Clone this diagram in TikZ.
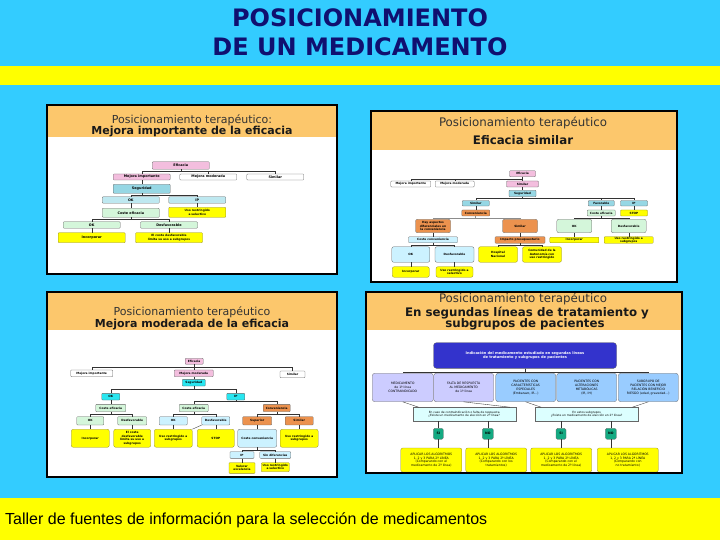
\documentclass[tikz,border=0pt]{standalone}
\usepackage{fontspec}
\setmainfont{DejaVu Sans}
\newfontfamily\footfont{Liberation Sans}
\usepackage{tikz}
\usepackage{xcolor}
\definecolor{SkyBg}{RGB}{51,204,255}
\definecolor{BandYellow}{RGB}{255,255,0}
\definecolor{TitleNavy}{RGB}{16,16,112}
\definecolor{HeadOrange}{RGB}{252,199,108}
\definecolor{BoxPink}{RGB}{243,190,222}
\definecolor{BoxTeal}{RGB}{150,215,228}
\definecolor{BoxTealLight}{RGB}{190,232,240}
\definecolor{BoxMint}{RGB}{212,246,218}
\definecolor{BoxYellow}{RGB}{255,255,0}
\definecolor{OliveEdge}{RGB}{150,140,40}
\definecolor{BoxOrange}{RGB}{236,146,78}
\definecolor{BoxPale}{RGB}{204,242,255}
\definecolor{BoxCyan}{RGB}{40,230,240}
\definecolor{BoxNavy}{RGB}{51,51,204}
\definecolor{BoxLilac}{RGB}{204,204,255}
\definecolor{BoxBlue}{RGB}{153,204,255}
\definecolor{BoxAsk}{RGB}{220,255,255}
\definecolor{BoxGreen}{RGB}{20,170,130}

\begin{document}
\begin{tikzpicture}[
            x=1pt, y=-1pt,
            sz/.style 2 args={minimum width=#1, minimum height=#2},
            box/.style={draw=black!60, line width=0.3pt, rounded corners=0.8pt, align=center, inner sep=0.2pt, font=\fontsize{2.9}{3.4}\selectfont\bfseries},
            bigtxt/.style={font=\fontsize{3.4}{3.9}\selectfont\bfseries},
            pinkbox/.style={box, fill=BoxPink},
            plainbox/.style={box, fill=white},
            tealbox/.style={box, fill=BoxTeal},
            okbox/.style={box, fill=BoxTealLight},
            mintbox/.style={box, fill=BoxMint},
            yelbox/.style={box, fill=BoxYellow, draw=OliveEdge},
            orabox/.style={box, fill=BoxOrange},
            palebox/.style={box, fill=BoxPale},
            cyanbox/.style={box, fill=BoxCyan},
            navybox/.style={box, fill=BoxNavy, text=white, rounded corners=3pt, font=\fontsize{3.6}{4.6}\selectfont\bfseries},
            lilabox/.style={box, fill=BoxLilac, rounded corners=2.5pt, font=\fontsize{3.1}{3.8}\selectfont},
            bluebox/.style={lilabox, fill=BoxBlue},
            askbox/.style={box, fill=BoxAsk, rounded corners=0pt, font=\fontsize{2.9}{3.6}\selectfont},
            yesno/.style={box, fill=BoxGreen, rounded corners=1.5pt, font=\fontsize{3.2}{3.6}\selectfont\bfseries},
            algbox/.style={box, fill=BoxYellow, draw=OliveEdge, rounded corners=2pt, font=\fontsize{3.1}{3.8}\selectfont},
            link/.style={draw=black!80, line width=0.35pt},
            panel/.style={draw=black, line width=2.6pt},
            headtxt/.style={font=\fontsize{#1}{13}\selectfont, text=black!80, inner sep=0pt, anchor=base},
            headtxt/.default=11,
            headbold/.style={font=\fontsize{#1}{13}\selectfont\bfseries, text=black!90, inner sep=0pt, anchor=base},
            headbold/.default=11,
            titletxt/.style={font=\fontsize{24}{28}\selectfont\bfseries, text=TitleNavy, inner sep=0pt, anchor=base}
        ]
            \useasboundingbox (0,0) rectangle (720,540);
            \fill[SkyBg] (0,0) rectangle (720,540);
            \fill[BandYellow] (0,66) rectangle (720,85);
            \fill[BandYellow] (0,498) rectangle (720,540);

            \node[titletxt] (title1) at (360,27) {POSICIONAMIENTO};
            \node[titletxt] (title2) at (360,56) {DE UN MEDICAMENTO};
            \node[font=\fontsize{16}{18}\selectfont\footfont, inner sep=0pt, anchor=base west] (foot) at (5,524.5) {Taller de fuentes de información para la selección de medicamentos};

            % panel backgrounds
            \fill[white] (47,105) rectangle (337,274);
            \fill[HeadOrange] (47,105) rectangle (337,137);
            \fill[white] (371,111) rectangle (677,282);
            \fill[HeadOrange] (371,111) rectangle (677,150);
            \fill[white] (47,292) rectangle (337,477);
            \fill[HeadOrange] (47,292) rectangle (337,330);
            \fill[white] (366,292) rectangle (682,473);
            \fill[HeadOrange] (366,292) rectangle (682,330);

            \node[headtxt] (aT1) at (192,124) {Posicionamiento terapéutico:};
            \node[headbold] (aT2) at (192,135) {Mejora importante de la eficacia};
            \node[headtxt=11.8] (bT1) at (523,126.3) {Posicionamiento terapéutico};
            \node[headbold=11.8] (bT2) at (523,144.3) {Eficacia similar};
            \node[headtxt] (cT1) at (192,315) {Posicionamiento terapéutico};
            \node[headbold] (cT2) at (192,327) {Mejora moderada de la eficacia};
            \node[headtxt=11.8] (dT1) at (523,302.3) {Posicionamiento terapéutico};
            \node[headbold=11.8] (dT2) at (527,316) {En segundas líneas de tratamiento y};
            \node[headbold=11.8] (dT3) at (525,327.5) {subgrupos de pacientes};

            % mejora importante
            \node[pinkbox, bigtxt, sz={57}{7.5}] (aEf) at (180.8,165.5) {Eficacia};
            \node[pinkbox, bigtxt, sz={57}{6}] (aMI) at (141.7,177) {Mejora importante};
            \node[plainbox, bigtxt, sz={57}{6}] (aMM) at (208.3,177) {Mejora moderada};
            \node[plainbox, bigtxt, sz={57}{6}] (aSi) at (275.3,177) {Similar};
            \node[tealbox, bigtxt, sz={57}{9}] (aSe) at (141.7,188.8) {Seguridad};
            \node[okbox, bigtxt, sz={57}{6.5}] (aOK) at (130.8,200) {OK};
            \node[okbox, bigtxt, sz={57}{6.5}] (aIP) at (197.3,200) {IP};
            \node[mintbox, bigtxt, sz={57}{9}] (aCE) at (130.8,212.8) {Coste eficacia};
            \node[yelbox, sz={57}{10}] (aUso) at (197.3,212.3) {Uso restringido\\a selectivo};
            \node[mintbox, bigtxt, sz={57}{6.5}] (aOK2) at (91.7,225) {OK};
            \node[mintbox, bigtxt, sz={57}{6.5}] (aDes) at (169,225) {Desfavorable};
            \node[yelbox, bigtxt, sz={67}{10}] (aInc) at (91.7,237.7) {Incorporar};
            \node[yelbox, sz={67}{10}] (aLim) at (169,237.7) {El coste desfavorable\\limita su uso a subgrupos};

            \draw[link] (aEf.south) -- ++(0,1.7) -| (aMI.north);
            \draw[link] (aEf.south) -- ++(0,1.7) -| (aMM.north);
            \draw[link] (aEf.south) -- ++(0,1.7) -| (aSi.north);
            \draw[link] (aMI) -- (aSe);
            \draw[link] (aSe.south) -- ++(0,1.6) -| (aOK.north);
            \draw[link] (aSe.south) -- ++(0,1.6) -| (aIP.north);
            \draw[link] (aOK) -- (aCE);
            \draw[link] (aIP) -- (aUso);
            \draw[link] (aCE.south) -- ++(0,1.7) -| (aOK2.north);
            \draw[link] (aCE.south) -- ++(0,1.7) -| (aDes.north);
            \draw[link] (aOK2) -- (aInc);
            \draw[link] (aDes) -- (aLim);

            % eficacia similar
            \node[pinkbox, sz={26}{6}] (bEf) at (522.5,173.7) {Eficacia};
            \node[plainbox, sz={40}{6}] (bMI) at (410.8,184) {Mejora importante};
            \node[plainbox, sz={39}{6}] (bMM) at (454.7,184) {Mejora moderada};
            \node[pinkbox, sz={32}{6}] (bSi) at (522.5,184) {Similar};
            \node[tealbox, sz={27}{6.4}] (bSe) at (522.5,193.5) {Seguridad};
            \node[tealbox, sz={27}{5.4}] (bSim) at (475.8,203.3) {Similar};
            \node[tealbox, sz={26}{5.4}] (bFav) at (601.3,203.3) {Favorable};
            \node[tealbox, sz={27}{5.4}] (bIP) at (634,203.3) {IP};
            \node[orabox, sz={28}{6}] (bCo) at (475.8,213) {Conveniencia};
            \node[mintbox, sz={28}{6}] (bCE) at (601.3,213) {Coste eficacia};
            \node[yelbox, sz={27}{6}] (bStop) at (634,213) {STOP};
            \node[orabox, sz={35}{13.4}, rounded corners=2pt] (bHay) at (433,226) {Hay aspectos\\diferenciales en\\la conveniencia};
            \node[orabox, sz={35}{13.4}, rounded corners=2pt] (bSim2) at (520,226) {Similar};
            \node[mintbox, sz={35}{13.4}, rounded corners=2pt] (bOK) at (574.3,226) {OK};
            \node[mintbox, sz={35}{13.4}, rounded corners=2pt] (bDes) at (628.7,226) {Desfavorable};
            \node[palebox, sz={49}{6}] (bCC) at (433,239.8) {Coste conveniencia};
            \node[orabox, sz={50}{6.6}] (bImp) at (520,240) {Impacto presupuestario};
            \node[yelbox, sz={49}{5.6}] (bInc) at (574.3,240) {Incorporar};
            \node[yelbox, sz={49}{6.6}] (bUso) at (628.7,240) {Uso restringido a\\subgrupos};
            \node[palebox, sz={38}{15.6}, rounded corners=2pt] (bOK2) at (410.8,254.5) {OK};
            \node[palebox, sz={39}{15.6}, rounded corners=2pt] (bDes2) at (454.5,254.5) {Desfavorable};
            \node[yelbox, sz={39}{15.6}, rounded corners=2pt] (bHos) at (498,254.5) {Hospital\\Nacional};
            \node[yelbox, sz={39}{15.6}, rounded corners=2pt] (bCA) at (542,254.5) {Comunidad de la\\Autonomía con\\uso restringido};
            \node[yelbox, sz={37}{10.6}, rounded corners=2pt] (bInc2) at (410.8,272) {Incorporar};
            \node[yelbox, sz={37}{10.6}, rounded corners=2pt] (bUso2) at (454.5,272) {Uso restringido a\\selectivo};

            \draw[link] (bEf.south) -- ++(0,2.3) -| (bMI.north);
            \draw[link] (bEf.south) -- ++(0,2.3) -| (bMM.north);
            \draw[link] (bEf.south) -- ++(0,2.3) -| (bSi.north);
            \draw[link] (bSi) -- (bSe);
            \draw[link] (bSe.south) -- ++(0,1.6) -| (bSim.north);
            \draw[link] (bSe.south) -- ++(0,1.6) -| (bFav.north);
            \draw[link] (bSe.south) -- ++(0,1.6) -| (bIP.north);
            \draw[link] (bSim) -- (bCo);
            \draw[link] (bFav) -- (bCE);
            \draw[link] (bIP) -- (bStop);
            \draw[link, black!45, line width=0.8pt] (bCo.south) -- ++(0,2) -| (bHay.north);
            \draw[link, black!45, line width=0.8pt] (bCo.south) -- ++(0,2) -| (bSim2.north);
            \draw[link] (bCE.south) -- ++(0,2) -| (bOK.north);
            \draw[link] (bCE.south) -- ++(0,2) -| (bDes.north);
            \draw[link] (bOK) -- (bInc);
            \draw[link] (bDes) -- (bUso);
            \draw[link] (bHay) -- (bCC);
            \draw[link] (bSim2) -- (bImp);
            \draw[link] (bCC.south) -- ++(0,2.2) -| (bOK2.north);
            \draw[link] (bCC.south) -- ++(0,2.2) -| (bDes2.north);
            \draw[link] (bImp.south) -- ++(0,2.2) -| (bHos.north);
            \draw[link] (bImp.south) -- ++(0,2.2) -| (bCA.north);
            \draw[link] (bOK2) -- (bInc2);
            \draw[link] (bDes2) -- (bUso2);

            % mejora moderada
            \node[pinkbox, sz={18}{6}] (cEf) at (194.2,361.3) {Eficacia};
            \node[plainbox, sz={42}{6.7}] (cMI) at (91.7,373.3) {Mejora importante};
            \node[pinkbox, sz={39}{6.7}] (cMM) at (193.8,373.3) {Mejora moderada};
            \node[plainbox, sz={25}{6.7}] (cSi) at (292.5,374.3) {Similar};
            \node[cyanbox, sz={23}{6.7}] (cSe) at (193.8,382.7) {Seguridad};
            \node[cyanbox, sz={18}{6.7}] (cOK) at (110.8,396.7) {OK};
            \node[cyanbox, sz={18}{6.7}] (cIP) at (235.8,396.7) {IP};
            \node[mintbox, sz={30}{7.3}] (cCE) at (110.8,408) {Coste eficacia};
            \node[mintbox, sz={29}{7.3}] (cCE2) at (193.8,408) {Coste eficacia};
            \node[orabox, sz={27}{7.3}] (cConv) at (276.7,408) {Conveniencia};
            \node[mintbox, sz={27}{8.3}] (cOK2) at (90.3,420.8) {OK};
            \node[mintbox, sz={29}{8.3}] (cDes) at (132.2,420.8) {Desfavorable};
            \node[palebox, sz={28}{8.3}] (cOK3) at (173.3,420.8) {OK};
            \node[palebox, sz={28}{8.3}] (cDes3) at (215.8,420.8) {Desfavorable};
            \node[orabox, sz={29}{8.3}] (cSup) at (257.2,420.8) {Superior};
            \node[orabox, sz={28}{8.3}] (cSim) at (299.2,420.8) {Similar};
            \node[yelbox, sz={38}{18}, rounded corners=2pt] (cInc) at (90.3,438.3) {Incorporar};
            \node[yelbox, sz={37}{18}, rounded corners=2pt] (cLim) at (132.2,438.3) {El coste\\desfavorable\\limita su uso a\\subgrupos};
            \node[yelbox, sz={38}{18}, rounded corners=2pt] (cUso) at (173.3,438.3) {Uso restringido a\\subgrupos};
            \node[yelbox, sz={37}{18}, rounded corners=2pt] (cStop) at (215.8,438.3) {STOP};
            \node[palebox, sz={39}{18}, rounded corners=2pt] (cCC) at (257.2,438.3) {Coste conveniencia};
            \node[yelbox, sz={38}{18}, rounded corners=2pt] (cUso2) at (299.2,438.3) {Uso restringido a\\subgrupos};
            \node[palebox, sz={24}{6.7}] (cIP2) at (242,455) {IP};
            \node[palebox, sz={31}{6.7}] (cSin) at (275.3,455) {Sin diferencias};
            \node[yelbox, sz={26}{10.7}] (cVal) at (242,468) {Valorar\\excelencia};
            \node[yelbox, sz={28}{9}] (cUso3) at (275.3,467.2) {Uso restringido\\a selectivo};

            \draw[link] (cEf.south) -- ++(0,2.7) -| (cMI.north);
            \draw[link] (cEf.south) -- ++(0,2.7) -| (cMM.north);
            \draw[link] (cEf.south) -- ++(0,2.7) -| (cSi.north);
            \draw[link] (cMM) -- (cSe);
            \draw[link] (cSe.south) -- ++(0,3) -| (cOK.north);
            \draw[link] (cSe.south) -- ++(0,3) -| (cIP.north);
            \draw[link] (cOK) -- (cCE);
            \draw[link] (cIP.south) -- ++(0,1.2) -| (cCE2.north);
            \draw[link] (cIP.south) -- ++(0,1.2) -| (cConv.north);
            \draw[link] (cCE.south) -- ++(0,2.3) -| (cOK2.north);
            \draw[link] (cCE.south) -- ++(0,2.3) -| (cDes.north);
            \draw[link] (cCE2.south) -- ++(0,2.3) -| (cOK3.north);
            \draw[link] (cCE2.south) -- ++(0,2.3) -| (cDes3.north);
            \draw[link] (cConv.south) -- ++(0,2.3) -| (cSup.north);
            \draw[link] (cConv.south) -- ++(0,2.3) -| (cSim.north);
            \draw[link] (cOK2) -- (cInc);
            \draw[link] (cDes) -- (cLim);
            \draw[link] (cOK3) -- (cUso);
            \draw[link] (cDes3) -- (cStop);
            \draw[link] (cDes3.south west) -- (cUso.north east);
            \draw[link] (cSup) -- (cCC);
            \draw[link] (cSim) -- (cUso2);
            \draw[link] (cCC.south) -- ++(0,2.7) -| (cIP2.north);
            \draw[link] (cCC.south) -- ++(0,2.7) -| (cSin.north);
            \draw[link] (cIP2) -- (cVal);
            \draw[link] (cSin) -- (cUso3);

            % segundas lineas
            \node[navybox, sz={183}{25.7}] (dInd) at (525,355.5) {Indicación del medicamento estudiado en segundas líneas\\de tratamiento y subgrupos de pacientes};
            \node[lilabox, sz={61}{28.4}] (dMed) at (402.8,387.5) {MEDICAMENTO\\de 1ª línea\\CONTRAINDICADO};
            \node[lilabox, sz={60}{28.4}] (dFal) at (463.7,387.5) {FALTA DE RESPUESTA\\AL MEDICAMENTO\\de 1ª línea};
            \node[bluebox, sz={60}{28.4}] (dCar) at (525.7,387.5) {PACIENTES CON\\CARACTERÍSTICAS\\ESPECIALES\\(Embarazo, IR...)};
            \node[bluebox, sz={60}{28.4}] (dAlt) at (586.7,387.5) {PACIENTES CON\\ALTERACIONES\\METABÓLICAS\\(IR, IH)};
            \node[bluebox, sz={60}{28.4}] (dSub) at (648.3,387.5) {SUBGRUPO DE\\PACIENTES CON MEJOR\\RELACIÓN BENEFICIO\\RIESGO (edad, gravedad...)};
            \node[askbox, sz={103}{13.7}] (dQ1) at (464.2,414.2) {En caso de contraindicación o falta de respuesta\\¿Existe un medicamento de elección en 2ª línea?};
            \node[askbox, sz={103}{13.7}] (dQ2) at (586.7,414.2) {En estos subgrupos\\¿Existe un medicamento de elección en 2ª línea?};
            \node[yesno, sz={10}{11}] (dS1) at (438.3,433.8) {SI};
            \node[yesno, sz={11}{11}] (dN1) at (487.8,433.8) {NO};
            \node[yesno, sz={10}{11}] (dS2) at (561,433.8) {SI};
            \node[yesno, sz={11}{11}] (dN2) at (610.8,433.8) {NO};
            \node[algbox, sz={61}{24}] (dY1) at (431.3,460) {APLICAR LOS ALGORITMOS\\1, 2 y 3 PARA 2ª LÍNEA\\(Comparando con el\\medicamento de 2ª línea)};
            \node[algbox, sz={61}{24}] (dY2) at (496.2,460) {APLICAR LOS ALGORITMOS\\1, 2 y 3 PARA 2ª LÍNEA\\(Comparando con los\\tratamientos)};
            \node[algbox, sz={61}{24}] (dY3) at (561.2,460) {APLICAR LOS ALGORITMOS\\1, 2 y 3 PARA 2ª LÍNEA\\(Comparando con el\\medicamento de 2ª línea)};
            \node[algbox, sz={61}{24}] (dY4) at (627.8,460) {APLICAR LOS ALGORITMOS\\1, 2 y 3 PARA 2ª LÍNEA\\(Comparando con\\no tratamiento)};

            \draw[link] (dInd.south) -- ++(0,3.7) -| (dMed.north);
            \draw[link] (dInd.south) -- ++(0,3.7) -| (dFal.north);
            \draw[link] (dInd.south) -- ++(0,3.7) -| (dCar.north);
            \draw[link] (dInd.south) -- ++(0,3.7) -| (dAlt.north);
            \draw[link] (dInd.south) -- ++(0,3.7) -| (dSub.north);
            \draw[link] (dMed.south) -- ([xshift=6]dQ1.north west);
            \draw[link] (dFal.south) -- ([xshift=-6]dQ1.north east);
            \draw[link] (dCar.south) -- ([xshift=6]dQ2.north west);
            \draw[link] (dSub.south) -- ([xshift=-6]dQ2.north east);
            \draw[link] (dS1 |- dQ1.south) -- (dS1.north);
            \draw[link] (dN1 |- dQ1.south) -- (dN1.north);
            \draw[link] (dS2 |- dQ2.south) -- (dS2.north);
            \draw[link] (dN2 |- dQ2.south) -- (dN2.north);
            \draw[link] (dS1.south) -- (dS1.south |- dY1.north);
            \draw[link] (dN1.south) -- (dN1.south |- dY2.north);
            \draw[link] (dS2.south) -- (dS2.south |- dY3.north);
            \draw[link] (dN2.south) -- (dN2.south |- dY4.north);

            % panel frames
            \draw[panel] (47,105) rectangle (337,274);
            \draw[panel] (371,111) rectangle (677,282);
            \draw[panel] (47,292) rectangle (337,477);
            \draw[panel] (366,292) rectangle (682,473);
        \end{tikzpicture}
\end{document}
